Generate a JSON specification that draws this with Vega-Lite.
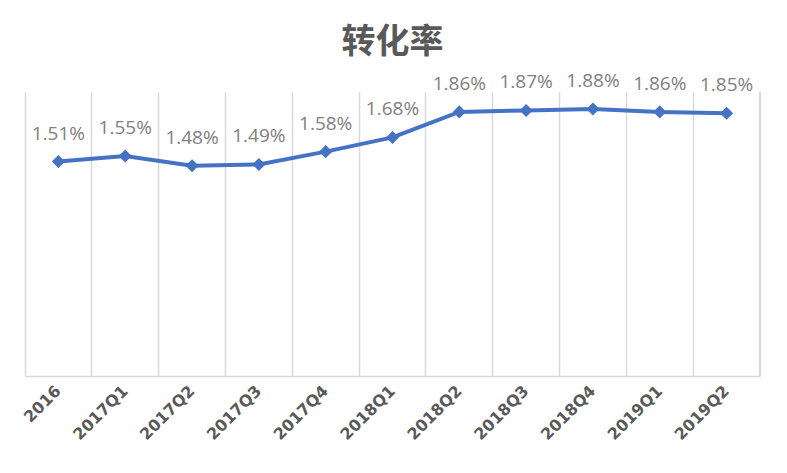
{
  "$schema": "https://vega.github.io/schema/vega-lite/v6.json",
  "width": 735,
  "height": 284,
  "autosize": {"type": "none"},
  "padding": {"left": 25, "top": 92, "right": 27, "bottom": 97},
  "background": "white",
  "config": {"view": {"stroke": null}, "font": "Noto Sans CJK SC"},
  "title": {
    "text": "转化率",
    "fontSize": 34,
    "fontWeight": "bold",
    "color": "#595959",
    "font": "Noto Sans CJK SC",
    "anchor": "middle",
    "offset": 12
  },
  "data": {
    "values": [
      {"period": "2016", "rate": 1.51},
      {"period": "2017Q1", "rate": 1.55},
      {"period": "2017Q2", "rate": 1.48},
      {"period": "2017Q3", "rate": 1.49},
      {"period": "2017Q4", "rate": 1.58},
      {"period": "2018Q1", "rate": 1.68},
      {"period": "2018Q2", "rate": 1.86},
      {"period": "2018Q3", "rate": 1.87},
      {"period": "2018Q4", "rate": 1.88},
      {"period": "2019Q1", "rate": 1.86},
      {"period": "2019Q2", "rate": 1.85}
    ]
  },
  "encoding": {
    "x": {
      "field": "period",
      "type": "ordinal",
      "sort": null,
      "scale": {
        "domain": ["2016", "2017Q1", "2017Q2", "2017Q3", "2017Q4", "2018Q1", "2018Q2", "2018Q3", "2018Q4", "2019Q1", "2019Q2"],
        "paddingInner": 0,
        "paddingOuter": 0
      },
      "axis": {
        "title": null,
        "labelAngle": -45,
        "labelAlign": "right",
        "labelBaseline": "middle",
        "labelPadding": 12,
        "labelFontSize": 16,
        "labelFontWeight": 600,
        "labelColor": "#595959",
        "labelFont": "DejaVu Sans",
        "ticks": false,
        "domainColor": "#d9d9d9",
        "domainWidth": 1.5,
        "grid": true,
        "gridColor": "#d9d9d9",
        "gridWidth": 1.5,
        "bandPosition": 0
      }
    },
    "y": {
      "field": "rate",
      "type": "quantitative",
      "scale": {"domain": [0, 2]},
      "axis": null
    }
  },
  "layer": [
    {
      "mark": {"type": "rule", "color": "#d9d9d9", "strokeWidth": 1.5},
      "encoding": {
        "x": {"datum": "2019Q2", "bandPosition": 1},
        "y": {"datum": 0},
        "y2": {"datum": 2}
      }
    },
    {
      "mark": {"type": "line", "color": "#4472C4", "strokeWidth": 4}
    },
    {
      "mark": {"type": "point", "shape": "diamond", "filled": true, "color": "#4472C4", "size": 170, "opacity": 1}
    },
    {
      "transform": [{"calculate": "format(datum.rate, '.2f') + '%'", "as": "lbl"}],
      "mark": {"type": "text", "dy": -28, "fontSize": 19, "color": "#808080", "font": "Open Sans"},
      "encoding": {
        "text": {"field": "lbl", "type": "nominal"}
      }
    }
  ]
}
